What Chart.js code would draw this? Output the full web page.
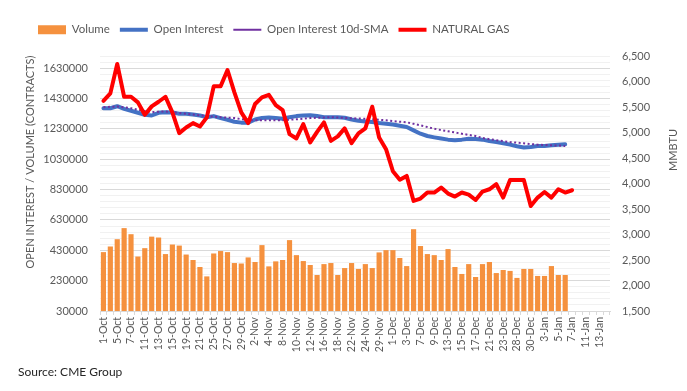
<!DOCTYPE html>
<html>
<head>
<meta charset="utf-8">
<script src="https://cdn.jsdelivr.net/npm/chart.js@4.4.1/dist/chart.umd.min.js"></script>
<style>
    body { margin: 0; background: #fff; }
    #wrap { width: 687px; height: 391px; }
</style>
</head>
<body>
<div id="wrap"><canvas id="chart" width="687" height="391"></canvas></div>
<script>
// Trading days on the category axis (every other one gets a label)
const dates = [
    '1-Oct', '4-Oct', '5-Oct', '6-Oct', '7-Oct', '8-Oct', '11-Oct', '12-Oct', '13-Oct', '14-Oct', '15-Oct',
    '18-Oct', '19-Oct', '20-Oct', '21-Oct', '22-Oct', '25-Oct', '26-Oct', '27-Oct', '28-Oct', '29-Oct',
    '1-Nov', '2-Nov', '3-Nov', '4-Nov', '5-Nov', '8-Nov', '9-Nov', '10-Nov', '11-Nov', '12-Nov',
    '15-Nov', '16-Nov', '17-Nov', '18-Nov', '19-Nov', '22-Nov', '23-Nov', '24-Nov', '26-Nov', '29-Nov', '30-Nov',
    '1-Dec', '2-Dec', '3-Dec', '6-Dec', '7-Dec', '8-Dec', '9-Dec', '10-Dec', '13-Dec', '14-Dec', '15-Dec',
    '16-Dec', '17-Dec', '20-Dec', '21-Dec', '22-Dec', '23-Dec', '27-Dec', '28-Dec', '29-Dec', '30-Dec', '31-Dec',
    '3-Jan', '4-Jan', '5-Jan', '6-Jan', '7-Jan', '10-Jan', '11-Jan', '12-Jan', '13-Jan', '14-Jan'
];

// Volume (contracts)
const volume = [
    418000, 455000, 503000, 576000, 536000, 389000, 444000, 520000, 514000, 405000,
    468000, 461000, 402000, 366000, 320000, 258000, 409000, 425000, 418000, 346000,
    343000, 383000, 353000, 464000, 324000, 357000, 366000, 497000, 398000, 359000,
    333000, 267000, 339000, 346000, 267000, 313000, 346000, 307000, 339000, 313000,
    416000, 431000, 431000, 379000, 326000, 569000, 458000, 405000, 398000, 366000,
    438000, 320000, 274000, 339000, 254000, 339000, 353000, 280000, 300000, 294000,
    248000, 307000, 307000, 261000, 261000, 326000, 267000, 267000
];

// Open interest (contracts)
const openInterest = [
    1366000, 1366000, 1379000, 1362000, 1349000, 1336000, 1323000, 1318000, 1336000, 1340000,
    1338000, 1330000, 1330000, 1325000, 1318000, 1307000, 1314000, 1301000, 1290000, 1277000,
    1271000, 1271000, 1292000, 1301000, 1305000, 1301000, 1297000, 1307000, 1314000, 1318000,
    1320000, 1314000, 1307000, 1307000, 1307000, 1303000, 1292000, 1284000, 1279000, 1275000,
    1268000, 1264000, 1259000, 1251000, 1242000, 1220000, 1198000, 1183000, 1174000, 1166000,
    1159000, 1155000, 1159000, 1165000, 1163000, 1159000, 1150000, 1143000, 1135000, 1126000,
    1115000, 1107000, 1111000, 1117000, 1117000, 1122000, 1126000, 1128000
];

// Open interest 10d-SMA (contracts)
const oiSma = [
    1373000, 1375000, 1377000, 1372000, 1366000, 1356000, 1348000, 1340000, 1343000, 1345000,
    1340000, 1335000, 1330000, 1325000, 1319000, 1314000, 1310000, 1307000, 1304000, 1301000,
    1294000, 1287000, 1286000, 1286000, 1286000, 1286000, 1287000, 1290000, 1293000, 1297000,
    1301000, 1303000, 1305000, 1307000, 1305000, 1302000, 1300000, 1298000, 1297000, 1294000,
    1290000, 1286000, 1281000, 1277000, 1273000, 1263000, 1253000, 1242000, 1231000, 1222000,
    1214000, 1206000, 1198000, 1190000, 1183000, 1170000, 1162000, 1155000, 1149000, 1143000,
    1139000, 1135000, 1130000, 1126000, 1124000, 1122000, 1120000, 1117000
];

// Natural gas price (MMBTU axis)
const naturalGas = [
    5622, 5768, 6344, 5701, 5701, 5591, 5347, 5512, 5603, 5701,
    5394, 4988, 5099, 5184, 5119, 5296, 5905, 5905, 6226, 5787,
    5394, 5184, 5558, 5689, 5740, 5538, 5440, 4968, 4883, 5165,
    4805, 5013, 5198, 4837, 4923, 5080, 4791, 4982, 5080, 5505,
    4903, 4673, 4240, 4075, 4149, 3658, 3705, 3823, 3823, 3921,
    3803, 3744, 3823, 3783, 3677, 3842, 3887, 3986, 3724, 4070,
    4070, 4070, 3559, 3724, 3834, 3724, 3887, 3823, 3868
];

Chart.defaults.font.family = 'Lato';
Chart.defaults.color = '#595959';

// Fixed texts: axis titles and source line
const textPlugin = {
    id: 'texts',
    afterDraw(chart) {
        const ctx = chart.ctx;
        ctx.save();
        ctx.fillStyle = '#595959';
        ctx.font = '11px Lato';
        ctx.textAlign = 'center';
        ctx.textBaseline = 'middle';

        ctx.save();
        ctx.translate(30, 162);
        ctx.rotate(-Math.PI / 2);
        ctx.fillText('OPEN INTEREST / VOLUME (CONTRACTS)', 0, 0);
        ctx.restore();

        ctx.save();
        ctx.translate(673, 150);
        ctx.rotate(-Math.PI / 2);
        ctx.fillText('MMBTU', 0, 0);
        ctx.restore();

        ctx.fillStyle = '#262626';
        ctx.font = '12px Lato';
        ctx.textAlign = 'left';
        ctx.fillText('Source: CME Group', 18, 372);
        ctx.restore();
    }
};

// Give the legend a fixed height so the plot starts where it should
const legendHeightPlugin = {
    id: 'legendHeight',
    beforeUpdate(chart) {
        const legend = chart.legend;
        if (legend && !legend._fixedFit) {
            const fit = legend.fit;
            legend.fit = function () {
                fit.call(this);
                this.height = 42;
            };
            legend._fixedFit = true;
        }
    }
};

const ctx = document.getElementById('chart').getContext('2d');
const chart = new Chart(ctx, {
    type: 'bar',
    data: {
        labels: dates,
        datasets: [
            {
                type: 'bar',
                label: 'Volume',
                data: volume,
                backgroundColor: '#F5913E',
                borderWidth: 0,
                barPercentage: 0.75,
                categoryPercentage: 1,
                yAxisID: 'y',
                pointStyle: 'rect',
                order: 4
            },
            {
                type: 'line',
                label: 'Open Interest',
                data: openInterest,
                borderColor: '#4472C4',
                backgroundColor: '#4472C4',
                borderWidth: 4,
                pointRadius: 0,
                tension: 0,
                borderJoinStyle: 'round',
                borderCapStyle: 'round',
                yAxisID: 'y',
                pointStyle: 'line',
                order: 3
            },
            {
                type: 'line',
                label: 'Open Interest 10d-SMA',
                data: oiSma,
                borderColor: '#7030A0',
                backgroundColor: '#7030A0',
                borderWidth: 2,
                borderDash: [2, 2.5],
                pointRadius: 0,
                tension: 0,
                yAxisID: 'y',
                pointStyle: 'line',
                order: 2
            },
            {
                type: 'line',
                label: 'NATURAL GAS',
                data: naturalGas,
                borderColor: '#FF0000',
                backgroundColor: '#FF0000',
                borderWidth: 4,
                pointRadius: 0,
                tension: 0,
                borderJoinStyle: 'round',
                borderCapStyle: 'round',
                yAxisID: 'y1',
                pointStyle: 'line',
                order: 1
            }
        ]
    },
    options: {
        responsive: false,
        animation: false,
        layout: {
            padding: { left: 28, right: 0, top: 14, bottom: 0 }
        },
        plugins: {
            legend: {
                position: 'top',
                align: 'start',
                labels: {
                    usePointStyle: true,
                    pointStyleWidth: 28,
                    boxHeight: 9,
                    padding: 10,
                    color: '#595959',
                    font: { size: 11.5 },
                    sort: (a, b) => a.datasetIndex - b.datasetIndex
                }
            },
            tooltip: { enabled: false }
        },
        scales: {
            x: {
                offset: true,
                grid: {
                    offset: true,
                    drawOnChartArea: false,
                    tickLength: 4,
                    color: '#d9d9d9'
                },
                border: { color: '#d9d9d9' },
                ticks: {
                    autoSkip: false,
                    maxRotation: 90,
                    minRotation: 90,
                    padding: 2,
                    color: '#595959',
                    font: { size: 10.5 },
                    callback: function (value, index) {
                        return index % 2 === 0 ? this.getLabelForValue(value) : '';
                    }
                },
                afterFit: (scale) => { scale.height = 80; }
            },
            y: {
                position: 'left',
                min: 30000,
                max: 1710000,
                border: { display: false },
                grid: {
                    drawTicks: false,
                    color: (c) => (c.tick && (c.tick.value - 30000) % 200000 === 0) ? '#d9d9d9' : '#f1f1f1'
                },
                ticks: {
                    stepSize: 40000,
                    autoSkip: false,
                    padding: 12,
                    color: '#595959',
                    font: { size: 11 },
                    callback: (v) => ((v - 30000) % 200000 === 0 ? String(v) : '')
                },
                afterFit: (scale) => { scale.width = 72; }
            },
            y1: {
                position: 'right',
                min: 1500,
                max: 6500,
                border: { display: false },
                grid: { drawOnChartArea: false, drawTicks: false },
                ticks: {
                    stepSize: 500,
                    padding: 12,
                    color: '#595959',
                    font: { size: 11 },
                    callback: (v) => v.toLocaleString('en-US')
                },
                afterFit: (scale) => { scale.width = 77; }
            }
        }
    },
    plugins: [legendHeightPlugin, textPlugin]
});
</script>
</body>
</html>
